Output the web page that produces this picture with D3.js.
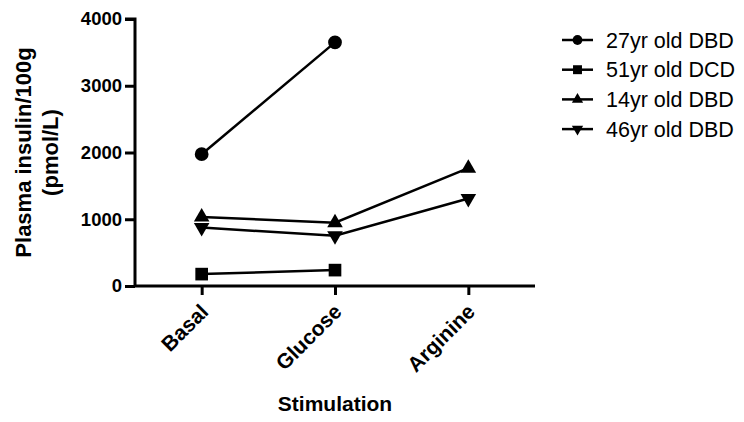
<!DOCTYPE html>
<html>
<head>
<meta charset="utf-8">
<script src="https://cdn.jsdelivr.net/npm/d3@7"></script>
<style>
  body { margin: 0; background: #fff; }
  text { font-family: Arial, "Liberation Sans", sans-serif; fill: #000; }
</style>
</head>
<body>
<svg id="chart" width="744" height="422"></svg>
<script>
const categories = ["Basal", "Glucose", "Arginine"];
const seriesNames = ["27yr old DBD", "51yr old DCD", "14yr old DBD", "46yr old DBD"];
const donor27 = [1975, 3650, null];
const donor51 = [178, 238, null];
const donor14 = [1035, 948, 1765];
const donor46 = [875, 752, 1312];
const yTicks = [0, 1000, 2000, 3000, 4000];

const seriesValues = [donor27, donor51, donor14, donor46];
const symbols = [d3.symbolCircle, d3.symbolSquare, d3.symbolTriangle, d3.symbolTriangle];
const flips = [0, 0, 0, 180];

const svg = d3.select("#chart");
const plotLeft = 135, plotRight = 535, plotTop = 19, plotBottom = 286;

const xScale = d3.scalePoint()
  .domain(categories)
  .range([plotLeft, plotRight])
  .padding(0.5);

const yScale = d3.scaleLinear()
  .domain([0, 4000])
  .range([plotBottom, plotTop]);

const yAxis = d3.axisLeft(yScale).tickValues(yTicks).tickSize(10).tickPadding(3).tickFormat(d3.format("d"));
const xAxis = d3.axisBottom(xScale).tickSize(9).tickFormat("");

const gy = svg.append("g")
  .attr("transform", `translate(${plotLeft}, 0)`)
  .call(yAxis);
gy.select(".domain").attr("d", `M-10,${plotTop}H0V${plotBottom}`);

const gx = svg.append("g")
  .attr("transform", `translate(0, ${plotBottom})`)
  .call(xAxis);
gx.select(".domain").attr("d", `M${plotLeft},0H${plotRight}`);

svg.selectAll(".domain, .tick line")
  .attr("stroke", "#000")
  .attr("stroke-width", 3);
gy.selectAll(".tick text")
  .style("font-size", "18.5px")
  .style("font-weight", "bold")
  .attr("font-family", null);

// category labels, slanted
svg.selectAll(".cat")
  .data(categories)
  .enter().append("text")
  .attr("class", "cat")
  .attr("transform", d => `translate(${xScale(d) + 8}, 313) rotate(-45)`)
  .attr("text-anchor", "end")
  .style("font-size", "21px")
  .style("font-weight", "bold")
  .text(d => d);

// series
const line = d3.line()
  .defined(d => d.v != null)
  .x(d => xScale(d.c))
  .y(d => yScale(d.v));

seriesValues.forEach((vals, i) => {
  const pts = vals.map((v, j) => ({ c: categories[j], v: v }));
  svg.append("path")
    .datum(pts)
    .attr("fill", "none")
    .attr("stroke", "#000")
    .attr("stroke-width", 2.5)
    .attr("d", line);

  const size = i === 0 ? 150 : i === 1 ? 160 : 105;
  svg.selectAll(".m" + i)
    .data(pts.filter(d => d.v != null))
    .enter().append("path")
    .attr("class", "m" + i)
    .attr("d", d3.symbol().type(symbols[i]).size(size))
    .attr("transform", d => `translate(${xScale(d.c)}, ${yScale(d.v)}) rotate(${flips[i]})`)
    .attr("fill", "#000");
});

// legend
const legend = svg.append("g");
seriesNames.forEach((name, i) => {
  const y = 40 + i * 29.7;
  legend.append("line")
    .attr("x1", 562).attr("x2", 593)
    .attr("y1", y).attr("y2", y)
    .attr("stroke", "#000")
    .attr("stroke-width", 2.5);
  const size = i === 0 ? 75 : i === 1 ? 80 : 55;
  legend.append("path")
    .attr("d", d3.symbol().type(symbols[i]).size(size))
    .attr("transform", `translate(577.5, ${y}) rotate(${flips[i]})`)
    .attr("fill", "#000");
  legend.append("text")
    .attr("x", 606)
    .attr("y", y)
    .attr("dy", "0.36em")
    .style("font-size", "21.5px")
    .text(name);
});

// axis titles
const yTitle = svg.append("text")
  .attr("transform", `translate(0, ${(plotTop + plotBottom) / 2}) rotate(-90)`)
  .attr("text-anchor", "middle")
  .style("font-size", "22px")
  .style("font-weight", "bold");
yTitle.append("tspan").attr("x", 0).attr("y", 31).text("Plasma insulin/100g");
yTitle.append("tspan").attr("x", 0).attr("y", 58).text("(pmol/L)");

svg.append("text")
  .attr("x", (plotLeft + plotRight) / 2)
  .attr("y", 411)
  .attr("text-anchor", "middle")
  .style("font-size", "21px")
  .style("font-weight", "bold")
  .text("Stimulation");
</script>
</body>
</html>
